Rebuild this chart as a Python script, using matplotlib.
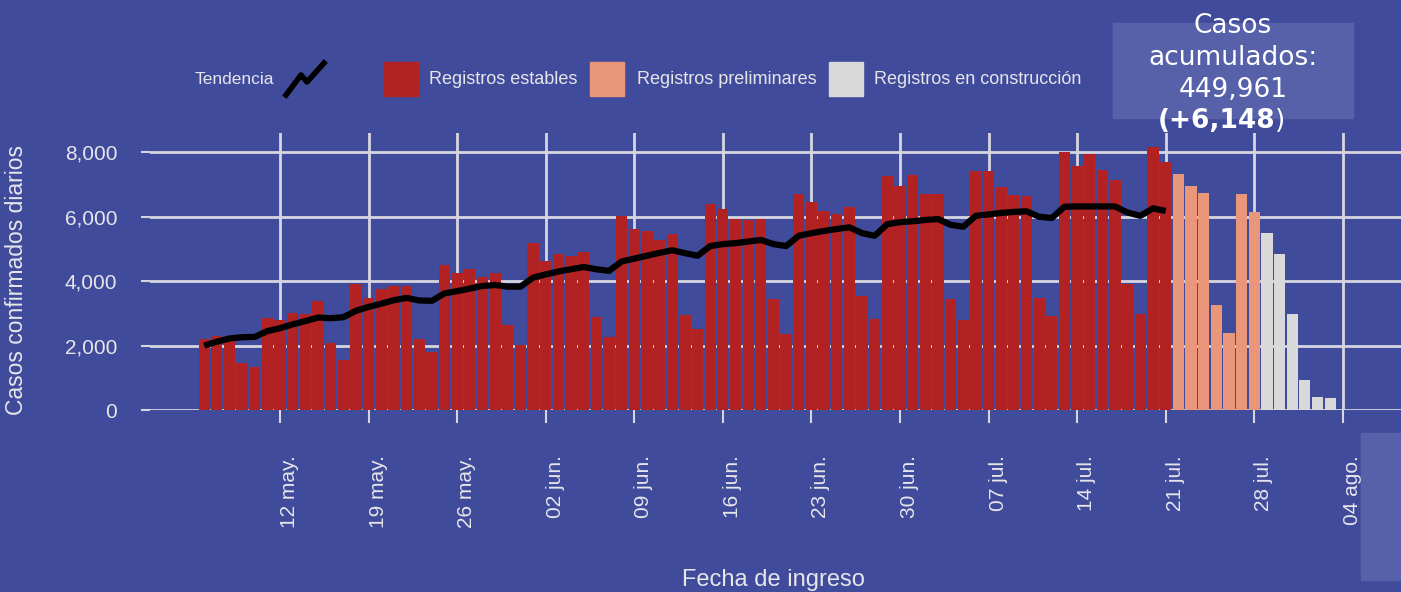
import numpy as np
import matplotlib
matplotlib.use('Agg')
import matplotlib.pyplot as plt
import matplotlib.dates as mdates
from matplotlib.patches import Rectangle
from matplotlib.lines import Line2D
from matplotlib.ticker import FuncFormatter

# daily cases by date of admission, 06 may - 03 aug
dates = np.arange('2020-05-06', '2020-08-04', dtype='datetime64[D]')

stable = [2200, 2300, 2280, 1450, 1350, 2850, 2800,
          3020, 2980, 3380, 2070, 1560, 3920, 3480,
          3760, 3860, 3860, 2200, 1800, 4500, 4250,
          4370, 4140, 4240, 2640, 2010, 5170, 4620,
          4840, 4780, 4910, 2880, 2270, 6020, 5630,
          5560, 5290, 5470, 2960, 2500, 6410, 6240,
          5940, 5910, 5930, 3440, 2370, 6720, 6470,
          6180, 6090, 6300, 3550, 2820, 7280, 6950,
          7310, 6720, 6700, 3440, 2790, 7420, 7420,
          6930, 6680, 6650, 3470, 2920, 8020, 7590,
          7950, 7450, 7140, 3920, 2980, 8160, 7710]
prelim = [7330, 6940, 6730, 3260, 2400, 6710, 6150]
building = [5500, 4850, 2990, 940, 400, 360]

trend = [2000, 2120, 2220, 2260, 2270, 2450, 2540,
         2660, 2760, 2870, 2850, 2880, 3080, 3200,
         3300, 3410, 3480, 3400, 3390, 3620, 3690,
         3770, 3850, 3880, 3830, 3830, 4110, 4210,
         4300, 4370, 4440, 4370, 4320, 4610, 4700,
         4790, 4880, 4960, 4870, 4790, 5090, 5150,
         5180, 5230, 5280, 5150, 5090, 5410, 5490,
         5560, 5620, 5670, 5490, 5410, 5770, 5830,
         5860, 5900, 5930, 5750, 5690, 6030, 6070,
         6120, 6150, 6170, 6000, 5960, 6310, 6320,
         6320, 6320, 6320, 6130, 6030, 6260, 6180]

tick_dates = np.array(['2020-05-12', '2020-05-19', '2020-05-26', '2020-06-02',
                       '2020-06-09', '2020-06-16', '2020-06-23', '2020-06-30',
                       '2020-07-07', '2020-07-14', '2020-07-21', '2020-07-28',
                       '2020-08-04'], dtype='datetime64[D]')
tick_labels = ['12 may.', '19 may.', '26 may.', '02 jun.', '09 jun.', '16 jun.',
               '23 jun.', '30 jun.', '07 jul.', '14 jul.', '21 jul.', '28 jul.',
               '04 ago.']

total = '449,961'
new = '+6,148'

bg = '#414b9b'
txt = '#e6e6ea'
grid = '#d6d6e0'
W, H = 1401, 592

plt.rcParams['font.family'] = ['Liberation Sans', 'DejaVu Sans']

fig = plt.figure(figsize=(W / 100, H / 100), dpi=100)
fig.patch.set_facecolor(bg)

def fx(px):
    return px / W

def fy(py):
    return 1 - py / H

ax = fig.add_axes([fx(150), fy(410), fx(1251), 277 / H])
ax.set_facecolor(bg)

x = mdates.date2num(dates)
n1, n2 = len(stable), len(prelim)
ax.bar(x[:n1], stable, width=0.89, color='#b22222', zorder=2)
ax.bar(x[n1:n1 + n2], prelim, width=0.89, color='#ea967a', zorder=2)
ax.bar(x[n1 + n2:], building, width=0.89, color='#d9d9d9', zorder=2)
ax.plot(x[:n1], trend, color='black', lw=4.5, zorder=3, solid_capstyle='butt')

ax.set_xlim(x[0] - 4.28, x[0] + 94.6)
ax.set_ylim(0, 8600)
ax.set_yticks([0, 2000, 4000, 6000, 8000])
ax.yaxis.set_major_formatter(FuncFormatter(lambda v, p: f'{v:,.0f}'))
ax.set_xticks(mdates.date2num(tick_dates))
ax.set_xticklabels(tick_labels, rotation=90, ha='left', va='top')

ax.grid(True, color=grid, lw=2)
ax.set_axisbelow(True)
for s in ax.spines.values():
    s.set_visible(False)
ax.tick_params(axis='x', colors=grid, length=9.5, width=1.5, pad=23,
               labelcolor=txt, labelsize=15)
ax.tick_params(axis='y', colors=grid, length=6.5, width=1.5, pad=17,
               labelcolor=txt, labelsize=15)

ax.set_ylabel('Casos confirmados diarios', fontsize=16.5, color=txt)
ax.yaxis.set_label_coords((28 - 150) / 1251, 0.47)
fig.text(fx(773), fy(569), 'Fecha de ingreso', fontsize=17, color=txt,
         ha='center', va='top')

# legend
ly = fy(79)
fig.text(fx(195), ly, 'Tendencia', fontsize=12.5, color=txt, va='center')
fig.lines.append(Line2D([fx(286), fx(301), fx(307), fx(324)],
                        [fy(95), fy(75), fy(82), fy(63)],
                        transform=fig.transFigure, color='black', lw=4))
items = [(384, 429, '#b22222', 'Registros estables'),
         (590, 637, '#ea967a', 'Registros preliminares'),
         (829, 874, '#d9d9d9', 'Registros en construcción')]
for sx, tx, c, lab in items:
    fig.patches.append(Rectangle((fx(sx), fy(96)), fx(34), 34 / H,
                                 transform=fig.transFigure, color=c))
    fig.text(fx(tx), ly, lab, fontsize=13, color=txt, va='center')

# cumulative box
fig.patches.append(Rectangle((fx(1113), fy(118)), fx(240), 95 / H,
                             transform=fig.transFigure, color='#5761aa'))
fig.patches.append(Rectangle((fx(1361), fy(580)), fx(40), 147 / H,
                             transform=fig.transFigure, color='#5761aa'))
bx = fx(1233)
box_font = ['DejaVu Sans']
fig.text(bx, fy(33), 'Casos', fontsize=19, color='white', ha='center',
         va='baseline', family=box_font)
fig.text(bx, fy(65), 'acumulados:', fontsize=19, color='white', ha='center',
         va='baseline', family=box_font)
fig.text(bx, fy(97), total, fontsize=19, color='white', ha='center',
         va='baseline', family=box_font)
fig.text(fx(1275), fy(128), '(' + new, fontsize=19, color='white', ha='right',
         va='baseline', fontweight='bold', family=box_font)
fig.text(fx(1275), fy(128), ')', fontsize=19, color='white', ha='left',
         va='baseline', family=box_font)

fig.savefig('out.png', dpi=100, facecolor=bg)
